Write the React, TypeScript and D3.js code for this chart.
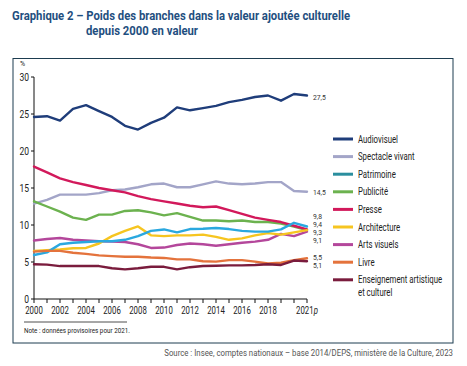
import * as d3 from "d3";

const years = d3.range(2000, 2022);

const audiovisuel = [24.6, 24.7, 24.1, 25.7, 26.2, 25.4, 24.6, 23.4, 22.9, 23.8, 24.5, 25.9, 25.5, 25.8, 26.1, 26.6, 26.9, 27.3, 27.5, 26.8, 27.7, 27.5];
const spectacle = [12.9, 13.4, 14.1, 14.1, 14.1, 14.3, 14.7, 14.8, 15.1, 15.5, 15.6, 15.1, 15.1, 15.5, 15.9, 15.6, 15.5, 15.6, 15.8, 15.8, 14.6, 14.5];
const patrimoine = [5.95, 6.3, 7.4, 7.6, 7.7, 7.8, 7.8, 8.0, 8.5, 9.2, 9.4, 9.0, 9.45, 9.5, 9.6, 9.45, 9.2, 9.1, 9.1, 9.4, 10.3, 9.8];
const publicite = [13.2, 12.5, 11.8, 11.0, 10.7, 11.4, 11.4, 11.9, 12.0, 11.7, 11.3, 11.6, 11.1, 10.6, 10.6, 10.5, 10.6, 10.4, 10.4, 10.2, 9.8, 9.3];
const presse = [17.9, 17.1, 16.3, 15.8, 15.4, 15.0, 14.7, 14.4, 13.9, 13.5, 13.2, 12.9, 12.6, 12.4, 12.5, 12.0, 11.5, 11.0, 10.7, 10.4, 9.9, 9.4];
const architecture = [6.5, 6.6, 6.7, 6.85, 6.9, 7.5, 8.5, 9.2, 9.8, 8.6, 8.5, 8.6, 8.6, 8.7, 8.4, 8.0, 8.2, 8.6, 8.9, 8.7, 9.0, 9.3];
const artsVisuels = [7.9, 8.1, 8.25, 8.0, 7.9, 7.8, 7.75, 7.7, 7.4, 6.9, 6.95, 7.3, 7.5, 7.4, 7.2, 7.4, 7.6, 7.75, 8.0, 8.8, 8.5, 9.1];
const livre = [6.4, 6.5, 6.5, 6.25, 6.1, 5.9, 5.8, 5.7, 5.7, 5.6, 5.55, 5.35, 5.35, 5.1, 5.05, 5.25, 5.25, 5.05, 4.8, 4.9, 5.25, 5.5];
const enseignement = [4.7, 4.65, 4.45, 4.45, 4.45, 4.45, 4.15, 4.0, 4.15, 4.35, 4.35, 4.0, 4.3, 4.45, 4.5, 4.55, 4.55, 4.6, 4.7, 4.6, 5.2, 5.1];

const yTicks = [0, 5, 10, 15, 20, 25, 30];
const xLabels = [2000, 2002, 2004, 2006, 2008, 2010, 2012, 2014, 2016, 2018];
const endLabels = ["27,5", "14,5", "9,8", "9,4", "9,3", "9,1", "5,5", "5,1"];

// series in legend order
const series = [
  { name: "Audiovisuel", values: audiovisuel, color: "#1f3d7a", legend: "#1f3d7a" },
  { name: "Spectacle vivant", values: spectacle, color: "#a3a5c8", legend: "#a3a5c8" },
  { name: "Patrimoine", values: patrimoine, color: "#2aa8df", legend: "#2a8e9e" },
  { name: "Publicité", values: publicite, color: "#6cb24f", legend: "#6cb24f" },
  { name: "Presse", values: presse, color: "#d2195b", legend: "#d2195b" },
  { name: "Architecture", values: architecture, color: "#f6c520", legend: "#f6c520" },
  { name: "Arts visuels", values: artsVisuels, color: "#b4479b", legend: "#b4479b" },
  { name: "Livre", values: livre, color: "#e4733c", legend: "#e4733c" },
  { name: "Enseignement artistique|et culturel", values: enseignement, color: "#7a1c3d", legend: "#7a1c3d" },
];

// drawing order (back to front)
const drawOrder = [1, 0, 3, 4, 6, 5, 2, 7, 8];

const endLabelY = [97, 192, 216, 223.5, 231.5, 239.5, 256.5, 265];

const condensed = "Roboto, 'Noto Sans', sans-serif";

export default function App() {
  const W = 467;
  const H = 366;
  const x = d3.scaleLinear().domain([2000, 2021]).range([34, 307]);
  const y = d3.scaleLinear().domain([0, 30]).range([299, 77]);
  const line = d3
    .line<number>()
    .x((_, i) => x(years[i]))
    .y((d) => y(d))
    .curve(d3.curveLinear);

  const legendX = 333;
  const legendY0 = 139;
  const legendStep = 17.6;

  return (
    <svg width={W} height={H} style={{ position: "absolute", left: 0, top: 0, background: "#fff" }}>
      {/* Title */}
      <g fill="#1f4f80" fontFamily={condensed} fontWeight="bold" fontSize={12}>
        <text x={12} y={20} textLength={338} lengthAdjust="spacingAndGlyphs">
          Graphique 2 – Poids des branches dans la valeur ajoutée culturelle
        </text>
        <text x={86} y={35} textLength={112} lengthAdjust="spacingAndGlyphs">
          depuis 2000 en valeur
        </text>
      </g>

      {/* Frame */}
      <rect x={13} y={58.5} width={440} height={284.5} fill="none" stroke="#1d3c50" strokeWidth={1} />

      {/* Y axis */}
      <g fontFamily={condensed} fontSize={10} fill="#222">
        <text x={20} y={66} fontSize={7}>%</text>
        <line x1={x(2000)} x2={x(2000)} y1={y(30)} y2={y(0)} stroke="#111" strokeWidth={1} />
        {yTicks.map((t) => (
          <g key={t}>
            <line x1={x(2000) - 3} x2={x(2000)} y1={y(t)} y2={y(t)} stroke="#111" />
            <text textAnchor="end" transform={`translate(29,${y(t) + 3.5}) scale(0.85,1)`}>
              {t}
            </text>
          </g>
        ))}
      </g>

      {/* X axis */}
      <g fontFamily={condensed} fontSize={10} fill="#222">
        <line x1={x(2000)} x2={x(2021)} y1={y(0)} y2={y(0)} stroke="#111" />
        {years.map((yr) => (
          <line key={yr} x1={x(yr)} x2={x(yr)} y1={y(0)} y2={y(0) + 4} stroke="#111" />
        ))}
        {xLabels.map((yr) => (
          <text key={yr} textAnchor="middle" transform={`translate(${x(yr)},314) scale(0.78,1)`}>
            {yr}
          </text>
        ))}
        <text textAnchor="middle" transform={`translate(${x(2021)},314) scale(0.78,1)`}>
          2021<tspan fontStyle="italic">p</tspan>
        </text>
      </g>

      {/* Lines */}
      <g fill="none" strokeWidth={2.4} strokeLinejoin="round" strokeLinecap="round">
        {drawOrder.map((i) => (
          <path key={i} d={line(series[i].values) ?? ""} stroke={series[i].color} />
        ))}
      </g>

      {/* End labels */}
      <g fontFamily={condensed} fontSize={8} fill="#333">
        {endLabels.map((l, i) => (
          <text key={l + i} transform={`translate(${x(2021) + 6},${endLabelY[i] + 3}) scale(0.85,1)`}>
            {l}
          </text>
        ))}
      </g>

      {/* Legend */}
      <g fontFamily={condensed} fontSize={10} fill="#222">
        {series.map((s, i) => {
          const cy = legendY0 + i * legendStep;
          const parts = s.name.split("|");
          return (
            <g key={s.name}>
              <line x1={legendX} x2={legendX + 20} y1={cy} y2={cy} stroke={s.legend} strokeWidth={3} />
              {parts.map((p, j) => (
                <text key={p} transform={`translate(${legendX + 25},${cy + 3.5 + j * 13}) scale(0.78,1)`}>
                  {p}
                </text>
              ))}
            </g>
          );
        })}
      </g>

      {/* Note */}
      <line x1={24} x2={127} y1={322} y2={322} stroke="#222" strokeWidth={0.8} />
      <text transform="translate(24,333) scale(0.84,1)" fontFamily={condensed} fontSize={7.5} fill="#222">
        Note : données provisoires pour 2021.
      </text>

      {/* Source */}
      <text transform="translate(453,356) scale(0.92,1)" textAnchor="end" fontFamily={condensed} fontSize={8.5} fill="#555">
        Source : Insee, comptes nationaux – base 2014/DEPS, ministère de la Culture, 2023
      </text>
    </svg>
  );
}
